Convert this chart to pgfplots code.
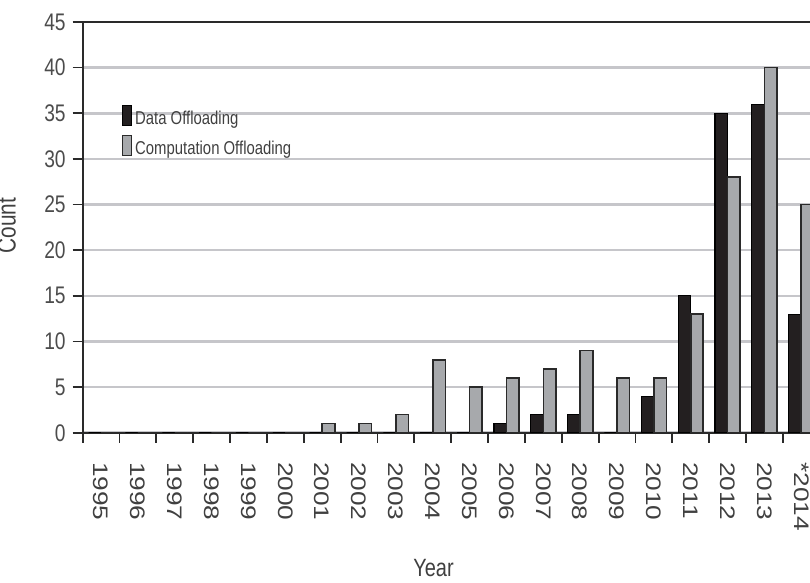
\documentclass[border=0pt]{standalone}
\usepackage{pgfplots}
\pgfplotsset{compat=1.18}
\usepackage{pgfplotstable}
\usepackage{fontspec}
\setmainfont{Liberation Sans}[FakeStretch=0.8]
\newfontfamily\widefont{Liberation Sans}[FakeStretch=1.25]
\definecolor{darkbar}{HTML}{231F20}
\definecolor{graybar}{HTML}{A7A9AC}
\definecolor{gridgray}{HTML}{C6C6CA}
\definecolor{axisgray}{HTML}{2A2A2A}

\pgfplotstableread{
x data comp
0 0 0
1 0 0
2 0 0
3 0 0
4 0 0
5 0 0
6 0 1
7 0 1
8 0 2
9 0 8
10 0 5
11 1 6
12 2 7
13 2 9
14 0 6
15 4 6
16 15 13
17 35 28
18 36 40
19 13 25
}\counts

\begin{document}
\begin{tikzpicture}
\begin{axis}[
  x=18.425pt, y=4.565pt,
  xmin=-0.5, xmax=19.5, ymin=0, ymax=45,
  axis lines=left,
  axis line style={-, line width=0.9pt, axisgray},
  tick style={axisgray, line width=0.9pt},
  tick align=outside,
  major tick length=5pt,
  ymajorgrids,
  grid style={gridgray, line width=1.3pt},
  ytick={0,5,...,45},
  xtick={-0.5,0.5,...,19.5},
  xticklabels={},
  extra x ticks={0,...,19},
  extra x tick labels={1995,1996,1997,1998,1999,2000,2001,2002,2003,2004,2005,2006,2007,2008,2009,2010,2011,2012,2013,*2014},
  extra x tick style={major tick length=0pt, grid=none,
    xticklabel style={yshift=-14.5pt, rotate=-90, anchor=west, inner sep=0pt,
      font=\widefont\fontsize{10.5}{10.5}\selectfont, text=black!75}},
  /pgf/number format/assume math mode=true,
  yticklabel style={font=\fontsize{12}{12}\selectfont, text=black!70},
  xlabel={Year},
  xlabel style={at={([yshift=-72pt]axis description cs:0.476,0)}, anchor=base,
    font=\fontsize{12.5}{13}\selectfont, text=black!75},
  ylabel={Count},
  ylabel style={at={([xshift=-33.5pt]axis description cs:0,0.504)}, anchor=base,
    font=\fontsize{13}{13}\selectfont, text=black!75},
  legend style={at={(axis cs:0.55,36.0)}, anchor=north west, draw=none, fill=none,
    inner sep=0pt, row sep=2.2pt, font=\fontsize{9.3}{10}\selectfont,
    nodes={inner sep=1.5pt, text=black!75}},
  legend cell align=left,
  legend image code/.code={\draw[#1, line width=0.7pt] (0pt,-3pt) rectangle (4.5pt,7pt);},
]
\addplot[ybar, bar width=0.34, bar shift=-0.17, fill=darkbar, draw=black, line width=0.6pt]
  table[x=x, y=data] {\counts};
\addlegendentry{Data Offloading}
\addplot[ybar, bar width=0.34, bar shift=0.17, fill=graybar, draw=axisgray, line width=0.8pt]
  table[x=x, y=comp] {\counts};
\addlegendentry{Computation Offloading}
\draw[axisgray, line width=0.9pt] (axis cs:-0.5,45) -- (axis cs:19.5,45);
\coordinate (O) at (axis cs:-0.5,0);
\end{axis}
\pgfresetboundingbox
\useasboundingbox ([xshift=-41.35pt,yshift=-75pt]O) rectangle ([xshift=363.65pt,yshift=216.4pt]O);
\end{tikzpicture}
\end{document}
